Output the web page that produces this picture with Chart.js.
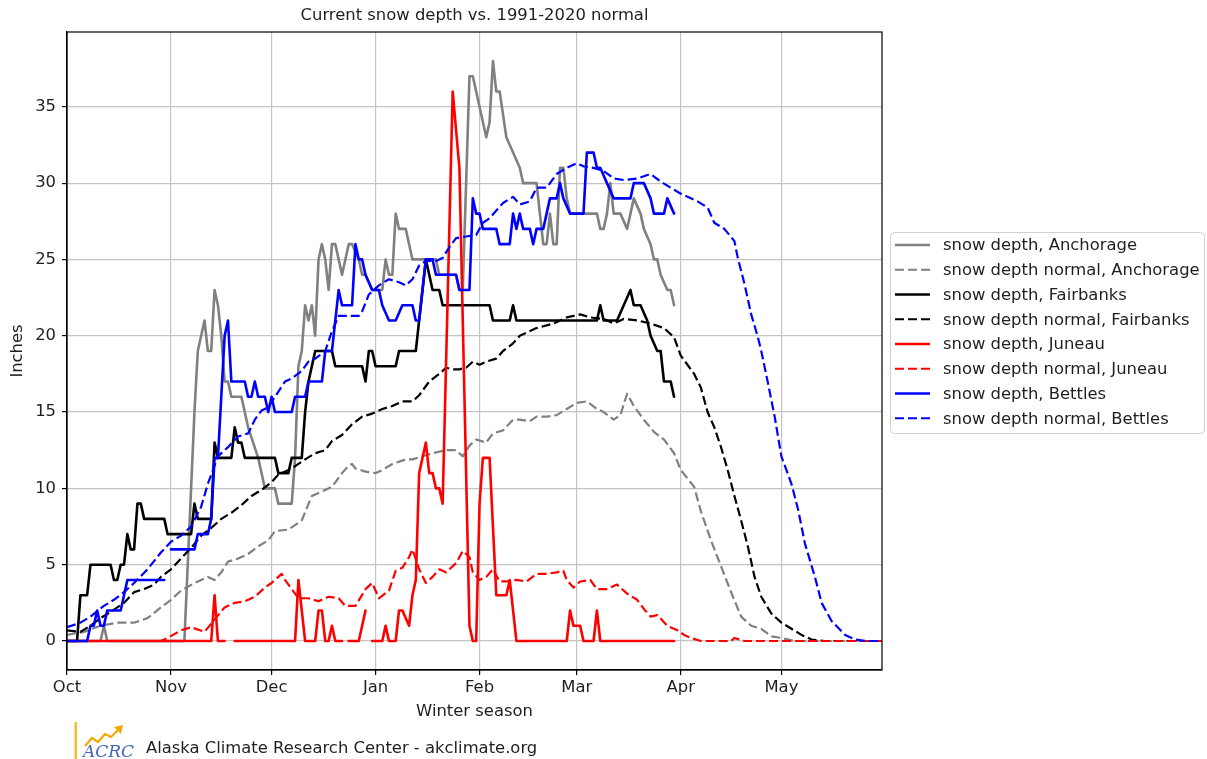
<!DOCTYPE html>
<html><head><meta charset="utf-8">
<script src="https://cdn.jsdelivr.net/npm/chart.js@4.4.1/dist/chart.umd.min.js"></script>
<style>html,body{margin:0;padding:0;background:#fff;}#wrap{position:relative;width:1207px;height:759px;}</style>
</head><body><div id="wrap"><canvas id="c" width="1207" height="759"></canvas></div>
<script>
const stationNames = ['Anchorage','Fairbanks','Juneau','Bettles'];
const stationColors = ['#808080','#000000','#ff0000','#0000ff'];
const monthTickDays = [0,31,61,92,123,152,183,213];
const monthLabels = ['Oct','Nov','Dec','Jan','Feb','Mar','Apr','May'];
const yTickValues = [0,5,10,15,20,25,30,35];

// [day since Oct 1, inches]
const anchorageDepth = [[0,0],[10,0],[11,1],[12,0],[35,0],[36,5],[37,10],[38,15],[39,19],[40,20],[41,21],[42,19],[43,19],[44,23],[45,22],[46,20],[47,17],[48,17],[49,16],[52,16],[54,14],[57,12],[59,10],[62,10],[63,9],[67,9],[68,12],[69,18],[70,19],[71,22],[72,21],[73,22],[74,20],[75,25],[76,26],[77,25],[78,23],[79,26],[80,26],[82,24],[84,26],[85,26],[87,25],[88,24],[89,24],[91,23],[94,23],[95,25],[96,24],[97,24],[98,28],[99,27],[101,27],[102,26],[103,25],[110,25],[111,24],[116,24],[117,23],[118,23],[120,37],[121,37],[123,35],[125,33],[126,34],[127,38],[128,36],[129,36],[131,33],[133,32],[135,31],[136,30],[140,30],[141,28],[142,26],[143,26],[144,28],[145,26],[146,26],[147,31],[148,31],[149,29],[150,28],[158,28],[159,27],[160,27],[161,28],[162,30],[163,28],[165,28],[167,27],[168,28],[169,29],[171,28],[172,27],[174,26],[175,25],[176,25],[177,24],[179,23],[180,23],[181,22]];
const anchorageNormal = [[0,0.4],[5,0.6],[10,1.0],[15,1.2],[20,1.2],[24,1.5],[28,2.2],[31,2.7],[34,3.3],[38,3.8],[40,4.0],[42,4.2],[44,4.0],[46,4.5],[48,5.2],[51,5.4],[54,5.7],[57,6.2],[60,6.6],[62,7.2],[66,7.3],[70,7.9],[73,9.5],[77,9.9],[79,10.1],[82,11.0],[84,11.5],[85,11.6],[86,11.3],[89,11.1],[92,11.0],[94,11.2],[97,11.6],[101,11.9],[103,11.9],[106,12.1],[109,12.3],[113,12.5],[116,12.5],[118,12.1],[120,12.8],[122,13.2],[125,13.0],[127,13.6],[130,13.8],[133,14.5],[135,14.5],[138,14.4],[140,14.7],[143,14.7],[146,14.8],[149,15.2],[152,15.6],[155,15.7],[158,15.2],[160,15.0],[163,14.5],[165,14.8],[167,16.2],[169,15.4],[172,14.5],[175,13.7],[178,13.2],[181,12.3],[183,11.2],[187,10.1],[189,8.5],[192,6.6],[195,4.9],[198,3.2],[201,1.6],[204,1.0],[207,0.8],[210,0.3],[213,0.2],[217,0],[243,0]];
const fairbanksDepth = [[0,0],[3,0],[4,3],[6,3],[7,5],[13,5],[14,4],[15,4],[16,5],[17,5],[18,7],[19,6],[20,6],[21,9],[22,9],[23,8],[29,8],[30,7],[37,7],[38,9],[39,8],[43,8],[44,13],[45,12],[49,12],[50,14],[51,13],[52,13],[53,12],[62,12],[63,11],[66,11],[67,12],[70,12],[71,15],[72,17],[73,18],[74,19],[79,19],[80,18],[88,18],[89,17],[90,19],[91,19],[92,18],[98,18],[99,19],[104,19],[105,21],[106,23],[107,25],[108,24],[109,23],[111,23],[112,22],[126,22],[127,21],[132,21],[133,22],[134,21],[158,21],[159,22],[160,21],[164,21],[166,22],[168,23],[169,22],[171,22],[173,21],[174,20],[176,19],[177,19],[178,17],[180,17],[181,16]];
const fairbanksNormal = [[0,0.7],[4,0.6],[7,1.0],[10,1.5],[13,1.9],[17,2.5],[20,3.2],[23,3.4],[26,3.7],[28,4.2],[31,4.7],[34,5.4],[37,6.1],[40,6.9],[43,7.4],[46,8.0],[49,8.4],[52,8.9],[55,9.5],[58,9.9],[61,10.4],[63,10.9],[67,11.3],[71,11.9],[74,12.3],[77,12.5],[79,13.1],[82,13.5],[85,14.2],[88,14.7],[91,14.9],[94,15.2],[97,15.4],[100,15.7],[103,15.7],[105,16.1],[108,17.0],[111,17.5],[113,17.9],[115,17.8],[117,17.8],[119,17.9],[121,18.3],[123,18.1],[125,18.3],[128,18.5],[130,19.0],[133,19.5],[135,20.0],[140,20.5],[145,20.8],[149,21.2],[153,21.4],[156,21.2],[160,21.1],[163,20.8],[166,21.1],[170,21.0],[174,20.8],[178,20.5],[181,19.9],[183,18.7],[187,17.5],[189,16.6],[191,15.0],[193,14.0],[195,12.7],[197,11.2],[199,9.5],[201,7.9],[203,6.2],[205,4.2],[207,2.9],[210,1.8],[213,1.2],[216,0.8],[219,0.4],[222,0.1],[226,0],[243,0]];
const juneauDepth = [[0,0],[43,0],[44,3],[45,0],[47,0],[48,null],[50,0],[68,0],[69,4],[71,0],[74,0],[75,2],[76,2],[77,0],[78,0],[79,1],[80,0],[82,0],[83,null],[84,0],[87,0],[89,2],[90,null],[91,0],[94,0],[95,1],[96,0],[98,0],[99,2],[100,2],[102,1],[103,3],[104,4],[105,11],[107,13],[108,11],[109,11],[110,10],[111,10],[112,9],[115,36],[117,31],[120,1],[121,0],[122,0],[123,9],[124,12],[126,12],[128,3],[131,3],[132,4],[133,2],[134,0],[149,0],[150,2],[151,1],[153,1],[154,0],[157,0],[158,2],[159,0],[181,0]];
const juneauNormal = [[0,0],[28,0],[30,0.2],[34,0.7],[37,0.9],[41,0.6],[44,1.4],[47,2.2],[50,2.5],[53,2.6],[56,2.9],[59,3.5],[61,3.8],[64,4.4],[65,4.0],[67,3.4],[69,2.8],[72,2.8],[75,2.6],[78,2.9],[81,2.8],[83,2.3],[86,2.3],[89,3.4],[91,3.8],[93,2.8],[96,3.3],[98,4.6],[100,4.8],[102,5.5],[103,6.0],[105,4.7],[107,3.8],[109,4.2],[111,4.7],[113,4.5],[116,5.1],[118,5.9],[120,5.5],[121,4.5],[123,4.0],[125,4.2],[127,4.7],[129,3.9],[131,3.9],[134,4.0],[137,3.9],[140,4.4],[143,4.4],[146,4.5],[148,4.6],[149,4.0],[151,3.5],[153,3.9],[156,4.0],[158,3.4],[161,3.4],[164,3.7],[167,3.1],[170,2.7],[172,2.1],[174,1.6],[176,1.7],[179,1.0],[182,0.7],[184,0.4],[186,0.2],[189,0],[198,0],[199,0.2],[202,0],[243,0]];
const bettlesDepth = [[0,0],[6,0],[7,1],[8,1],[9,2],[10,1],[11,1],[12,2],[16,2],[18,4],[29,4],[30,null],[31,6],[38,6],[39,7],[42,7],[43,8],[44,12],[45,12],[47,20],[48,21],[49,17],[53,17],[54,16],[55,16],[56,17],[57,16],[59,16],[60,15],[61,16],[62,15],[67,15],[68,16],[71,16],[72,17],[76,17],[77,19],[79,19],[80,21],[81,23],[82,22],[85,22],[86,26],[87,25],[88,25],[89,24],[91,23],[93,23],[94,22],[96,21],[98,21],[100,22],[103,22],[104,21],[105,21],[107,25],[109,25],[110,24],[116,24],[117,23],[120,23],[121,29],[122,28],[123,28],[124,27],[128,27],[129,26],[132,26],[133,28],[134,27],[135,28],[136,27],[138,27],[139,26],[140,27],[142,27],[143,28],[144,29],[146,29],[147,30],[148,29],[150,28],[154,28],[155,32],[157,32],[158,31],[159,31],[161,30],[163,29],[168,29],[169,30],[172,30],[174,29],[175,28],[178,28],[179,29],[181,28]];
const bettlesNormal = [[0,0.9],[4,1.2],[7,1.6],[11,2.3],[14,2.7],[17,3.2],[20,3.8],[24,4.7],[28,5.8],[31,6.5],[34,6.9],[37,7.5],[40,8.8],[42,10.3],[45,12.1],[48,12.7],[51,13.4],[54,13.6],[56,14.5],[58,15.1],[60,15.3],[62,16.0],[65,17.0],[67,17.2],[70,17.7],[72,18.3],[74,18.5],[77,19.0],[79,20.3],[81,21.3],[84,21.3],[87,21.3],[88,21.6],[90,22.7],[93,23.3],[96,23.7],[99,23.5],[101,23.3],[103,23.7],[105,24.6],[107,24.9],[110,24.9],[112,25.1],[114,25.8],[116,26.4],[119,26.5],[122,26.6],[124,27.4],[126,27.7],[128,28.2],[130,28.7],[133,29.1],[135,28.6],[138,28.8],[140,29.7],[143,29.7],[146,30.6],[149,31.0],[152,31.3],[154,31.1],[157,31.0],[160,30.8],[163,30.3],[166,30.2],[170,30.3],[174,30.6],[177,30.1],[180,29.7],[183,29.3],[186,29.0],[188,28.8],[191,28.4],[193,27.4],[196,27.0],[199,26.2],[200,25.1],[202,23.4],[204,21.4],[206,19.9],[207,19.0],[209,16.9],[211,14.7],[213,12.1],[216,10.3],[218,8.6],[220,6.4],[223,4.2],[225,2.5],[228,1.3],[232,0.4],[235,0.1],[238,0],[243,0]];

const FONT = 'DejaVu Sans';
const FS = 16.4;
const TXT = '#1f1f1f';
const GRID = '#c4c4c4';

const seriesList = [
  {label:'snow depth, ' + stationNames[0], data: anchorageDepth, color: stationColors[0], dash:false},
  {label:'snow depth normal, ' + stationNames[0], data: anchorageNormal, color: stationColors[0], dash:true},
  {label:'snow depth, ' + stationNames[1], data: fairbanksDepth, color: stationColors[1], dash:false},
  {label:'snow depth normal, ' + stationNames[1], data: fairbanksNormal, color: stationColors[1], dash:true},
  {label:'snow depth, ' + stationNames[2], data: juneauDepth, color: stationColors[2], dash:false},
  {label:'snow depth normal, ' + stationNames[2], data: juneauNormal, color: stationColors[2], dash:true},
  {label:'snow depth, ' + stationNames[3], data: bettlesDepth, color: stationColors[3], dash:false},
  {label:'snow depth normal, ' + stationNames[3], data: bettlesNormal, color: stationColors[3], dash:true}
];
const DASH = [9,4];

const datasets = seriesList.map((s, i) => ({
  label: s.label,
  data: s.data.map(([x, y]) => ({x, y})),
  borderColor: s.color,
  backgroundColor: s.color,
  borderWidth: s.dash ? 2.2 : 2.6,
  borderDash: s.dash ? DASH : [],
  borderJoinStyle: 'round',
  borderCapStyle: s.dash ? 'butt' : 'round',
  pointRadius: 0,
  pointHoverRadius: 0,
  tension: 0,
  fill: false,
  spanGaps: false,
  order: seriesList.length - i
}));

const decor = {
  id: 'decor',
  afterDraw(chart) {
    const ctx = chart.ctx;
    const a = chart.chartArea;
    ctx.save();
    // spines
    ctx.strokeStyle = '#000';
    ctx.lineWidth = 1.2;
    ctx.strokeRect(a.left, a.top, a.right - a.left, a.bottom - a.top);
    // title
    ctx.fillStyle = TXT;
    ctx.font = FS + 'px "' + FONT + '"';
    ctx.textAlign = 'center';
    ctx.textBaseline = 'middle';
    ctx.fillText('Current snow depth vs. 1991-2020 normal', (a.left + a.right) / 2, 16);
    // legend
    const lx = 890.5, ly = 232.5, lw = 314, lh = 201, r = 4;
    ctx.beginPath();
    ctx.moveTo(lx + r, ly);
    ctx.lineTo(lx + lw - r, ly); ctx.quadraticCurveTo(lx + lw, ly, lx + lw, ly + r);
    ctx.lineTo(lx + lw, ly + lh - r); ctx.quadraticCurveTo(lx + lw, ly + lh, lx + lw - r, ly + lh);
    ctx.lineTo(lx + r, ly + lh); ctx.quadraticCurveTo(lx, ly + lh, lx, ly + lh - r);
    ctx.lineTo(lx, ly + r); ctx.quadraticCurveTo(lx, ly, lx + r, ly);
    ctx.closePath();
    ctx.fillStyle = 'rgba(255,255,255,0.8)';
    ctx.fill();
    ctx.strokeStyle = '#d0d0d0';
    ctx.lineWidth = 1;
    ctx.stroke();
    ctx.textAlign = 'left';
    seriesList.forEach((s, i) => {
      const y = 245 + i * 24.75;
      ctx.beginPath();
      ctx.strokeStyle = s.color;
      ctx.lineWidth = s.dash ? 2.2 : 2.6;
      ctx.setLineDash(s.dash ? DASH : []);
      ctx.moveTo(895, y); ctx.lineTo(930, y);
      ctx.stroke();
      ctx.setLineDash([]);
      ctx.fillStyle = TXT;
      ctx.fillText(s.label, 943, y + 1);
    });
    // footer logo
    ctx.fillStyle = '#f0c030';
    ctx.fillRect(74.5, 722, 2.5, 37);
    ctx.beginPath();
    ctx.strokeStyle = '#f2a900';
    ctx.lineWidth = 2.2;
    ctx.moveTo(85, 746); ctx.lineTo(92, 738); ctx.lineTo(98, 742); ctx.lineTo(105, 734); ctx.lineTo(111, 737); ctx.lineTo(119, 729);
    ctx.stroke();
    ctx.beginPath();
    ctx.fillStyle = '#f2a900';
    ctx.moveTo(123, 725); ctx.lineTo(114, 727); ctx.lineTo(121, 734); ctx.closePath();
    ctx.fill();
    ctx.fillStyle = '#4466b8';
    ctx.font = 'italic 17px "DejaVu Serif"';
    ctx.textBaseline = 'alphabetic';
    ctx.fillText('ACRC', 83, 757);
    ctx.fillStyle = TXT;
    ctx.font = FS + 'px "' + FONT + '"';
    ctx.textBaseline = 'middle';
    ctx.fillText('Alaska Climate Research Center - akclimate.org', 146, 749);
    ctx.restore();
  }
};

new Chart(document.getElementById('c'), {
  type: 'line',
  data: { datasets },
  options: {
    responsive: false,
    devicePixelRatio: 1,
    animation: false,
    events: [],
    layout: { padding: { left: 0, top: 32, right: 325, bottom: 0 } },
    plugins: { legend: { display: false }, tooltip: { enabled: false }, title: { display: false } },
    scales: {
      x: {
        type: 'linear', min: 0, max: 243,
        afterBuildTicks: s => { s.ticks = monthTickDays.map(v => ({ value: v })); },
        afterFit: s => { s.height = 89; },
        ticks: { callback: v => monthLabels[monthTickDays.indexOf(v)], font: { family: FONT, size: FS }, color: TXT, padding: 3, maxRotation: 0, autoSkip: false },
        grid: { color: GRID, lineWidth: 1.2, tickLength: 5, tickColor: '#000', tickWidth: 1.2, drawTicks: true },
        border: { display: true, color: '#000', width: 1.2 },
        title: { display: true, text: 'Winter season', font: { family: FONT, size: FS }, color: TXT, padding: { top: 0, bottom: 37 } }
      },
      y: {
        type: 'linear', min: -1.9, max: 39.9,
        afterBuildTicks: s => { s.ticks = yTickValues.map(v => ({ value: v })); },
        afterFit: s => { s.width = 67; },
        ticks: { callback: v => String(v), font: { family: FONT, size: FS }, color: TXT, padding: 6 },
        grid: { color: GRID, lineWidth: 1.2, tickLength: 5, tickColor: '#000', tickWidth: 1.2, drawTicks: true },
        border: { display: true, color: '#000', width: 1.2 },
        title: { display: true, text: 'Inches', font: { family: FONT, size: FS }, color: TXT, padding: { top: 8, bottom: 0 } }
      }
    }
  },
  plugins: [decor]
});
</script></body></html>
